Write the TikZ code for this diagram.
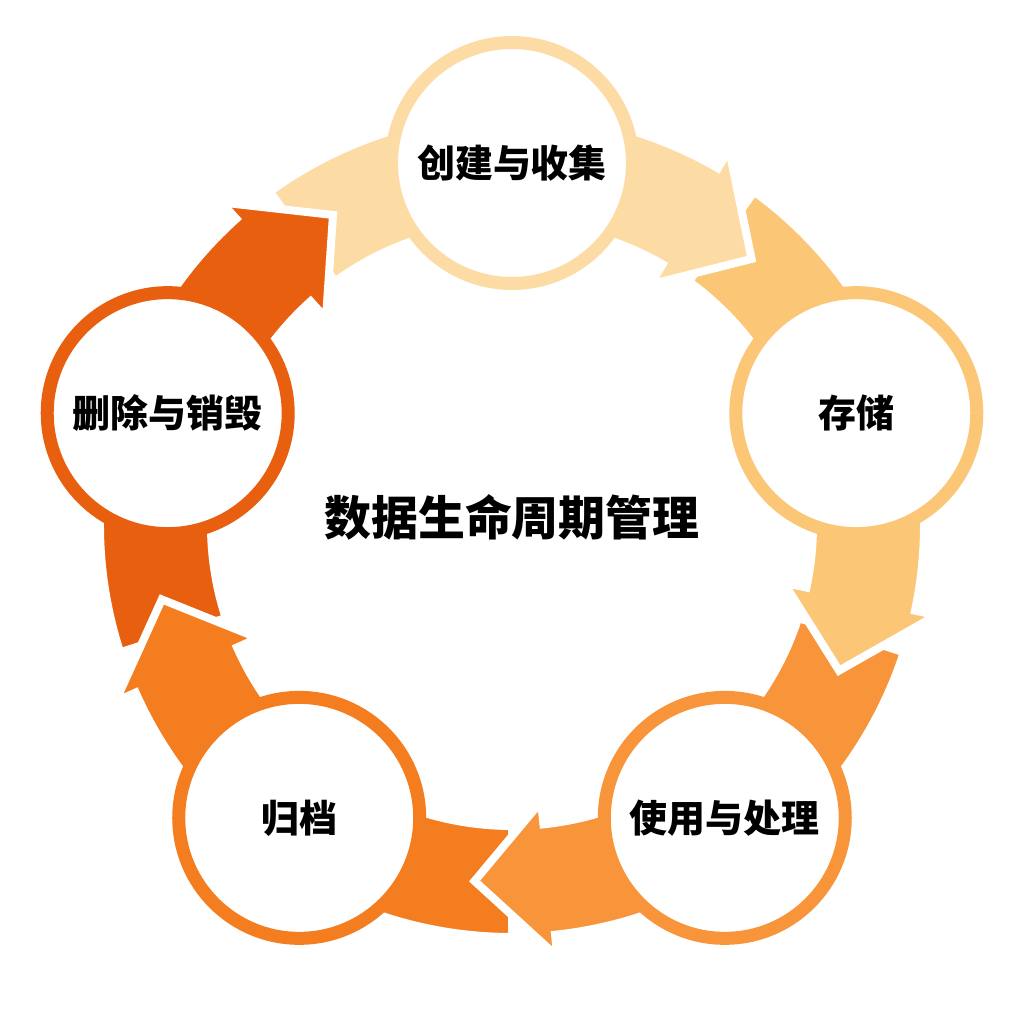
\documentclass[tikz,border=0pt]{standalone}
\usepackage{fontspec}
\newfontfamily\cjk{Noto Sans CJK SC}
\definecolor{cA}{HTML}{FDDBA4}
\definecolor{cB}{HTML}{FBC776}
\definecolor{cC}{HTML}{F8953A}
\definecolor{cD}{HTML}{F47D20}
\definecolor{cE}{HTML}{E8600F}
\tikzset{
  arrowband/.style={fill=#1, draw=white, line width=0.16cm, line join=miter},
  stage/.style={circle, draw=#1, fill=white, line width=0.26cm, minimum size=4.82cm, inner sep=0pt,
     font=\cjk\bfseries\fontsize{21.6pt}{26pt}\selectfont},
  titletext/.style={font=\cjk\bfseries\fontsize{26.7pt}{32pt}\selectfont}
}
\newcommand{\bandpath}[1]{(#1+36:412) arc[start angle=#1+36, end angle=#1-30, radius=412]
   -- (#1-30:434) -- (#1-42:358) -- (#1-30:278) -- (#1-30:301)
   arc[start angle=#1-30, end angle=#1+36, radius=301] -- cycle}
\begin{document}
\begin{tikzpicture}[x=0.02cm,y=0.02cm]
\path[use as bounding box, fill=white] (-512,-499) rectangle (512,525);
% arrows, drawn so each head lies over the next tail
\foreach \t/\c in {162/cE,-126/cD,-54/cC,18/cB,90/cA}{
  \path[arrowband=\c] \bandpath{\t};
}
\begin{scope}
  \clip (0,0) -- (136:700) arc[start angle=136, end angle=100, radius=700] -- cycle;
  \path[arrowband=cE] \bandpath{162};
\end{scope}
% stages
\node[stage=cA] (s1) at (90:362) {创建与收集};
\node[stage=cB] (s2) at (18:362) {存储};
\node[stage=cC] (s3) at (-54:362) {使用与处理};
\node[stage=cD] (s4) at (-126:362) {归档};
\node[stage=cE] (s5) at (162:362) {删除与销毁};
\node[titletext] (title) at (0,8) {数据生命周期管理};
\end{tikzpicture}
\end{document}
